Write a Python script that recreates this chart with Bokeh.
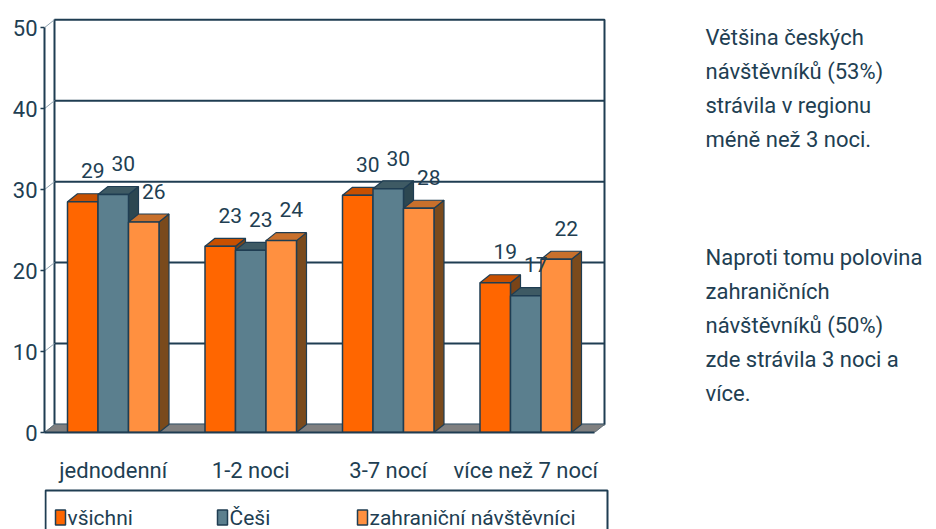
from bokeh.plotting import figure
from bokeh.models import Range1d, FixedTicker
from bokeh.layouts import column
from bokeh.core.properties import value
from bokeh.embed import file_html
from bokeh.resources import INLINE

# ---------------- data ----------------
categories = ["jednodenní", "1-2 noci", "3-7 nocí", "více než 7 nocí"]
series_names = ["všichni", "Češi", "zahraniční návštěvníci"]
vsichni = [28.5, 23.0, 29.3, 18.5]
cesi = [29.4, 22.5, 30.1, 16.9]
zahranicni = [26.0, 23.7, 27.7, 21.4]
vsichni_labels = ["29", "23", "30", "19"]
cesi_labels = ["30", "23", "30", "17"]
zahranicni_labels = ["26", "24", "28", "22"]
y_ticks = [0, 10, 20, 30, 40, 50]
note_1 = ["Většina českých", "návštěvníků (53%)", "strávila v regionu", "méně než 3 noci."]
note_2 = ["Naproti tomu polovina", "zahraničních", "návštěvníků (50%)",
          "zde strávila 3 noci a", "více."]

# ---------------- layout / style ----------------
W, H = 936, 485
LEG_H = 44
LEFT, TOP, BOTTOM = 44, 15, 51
FRAME_W = W - LEFT
FRAME_H = H - TOP - BOTTOM
PX_PER_X = 137.5
XMAX = FRAME_W / PX_PER_X
YMAX = 51.5
PX_PER_Y = FRAME_H / YMAX
DX = 10 / PX_PER_X          # 3D depth offset (x)
DY = 8 / PX_PER_Y           # 3D depth offset (y)
BAR_W = 30.5 / PX_PER_X
YTOP = y_ticks[-1]

FONT = "Roboto"
DARK = "#1f3d52"
TXT = "#213e52"
FRONT = ["#ff6600", "#5b7f8e", "#ff9040"]
TOPC = ["#c85000", "#3e5a64", "#c8702c"]
SIDE = ["#7a4418", "#2c4751", "#7a4a1c"]


def sx(px):
    return (px - LEFT) / PX_PER_X


def sy(py):
    return (TOP + FRAME_H - py) / PX_PER_Y


p = figure(width=W, height=H, output_backend="svg", toolbar_location=None,
           x_range=Range1d(0, XMAX), y_range=Range1d(0, YMAX),
           min_border_left=LEFT, min_border_right=0, min_border_top=TOP,
           min_border_bottom=BOTTOM, outline_line_color=None,
           background_fill_color="white", border_fill_color="white")
p.grid.visible = False

n = len(categories)

# back wall
p.quad(left=[DX], right=[n + DX], bottom=[DY], top=[YTOP + DY],
       fill_color="white", line_color=DARK, line_width=2)
# gridlines on back wall
gx = [[DX, n + DX] for t in y_ticks[1:-1]]
gy = [[t + DY, t + DY] for t in y_ticks[1:-1]]
p.multi_line(gx, gy, line_color=DARK, line_width=2)
# side-wall diagonals
p.multi_line([[0, DX] for t in y_ticks], [[t, t + DY] for t in y_ticks],
             line_color="#8fa3b0", line_width=1)
# floor
p.patch([0, DX, n + DX, n], [0, DY, DY, 0], fill_color="#808080",
        line_color="#5a6a75", line_width=1)

series = [vsichni, cesi, zahranicni]
labels = [vsichni_labels, cesi_labels, zahranicni_labels]

# side & top faces, painter's order left to right
px_list, py_list, fills = [], [], []
centers = [[i + 0.5 + (j - 1) * BAR_W for i in range(n)] for j in range(3)]
for i in range(n):
    for j in range(3):
        v = series[j][i]
        x0 = centers[j][i] - BAR_W / 2
        x1 = centers[j][i] + BAR_W / 2
        px_list.append([x1, x1, x1 + DX, x1 + DX])
        py_list.append([0, v, v + DY, DY])
        fills.append(SIDE[j])
        px_list.append([x0, x1, x1 + DX, x0 + DX])
        py_list.append([v, v, v + DY, v + DY])
        fills.append(TOPC[j])
p.patches(px_list, py_list, fill_color=fills, line_color=DARK, line_width=1.2)

for j in range(3):
    p.vbar(x=centers[j], top=series[j], bottom=0, width=BAR_W,
           fill_color=FRONT[j], line_color=DARK, line_width=1.5)
for j in range(3):
    p.text(x=[c + DX for c in centers[j]], y=[v + 3.8 for v in series[j]],
           text=labels[j], text_align="center", text_baseline="middle",
           text_font=value(FONT), text_font_size="21px", text_color=TXT)

# notes on the right
for lines, top_px in ((note_1, 37), (note_2, 258)):
    p.text(x=[sx(705)] * len(lines),
           y=[sy(top_px + k * 34.3) for k in range(len(lines))],
           text=lines, text_align="left", text_baseline="middle",
           text_font=value(FONT), text_font_size="22px", text_color=TXT)

# axes
p.yaxis.ticker = FixedTicker(ticks=y_ticks)
p.yaxis.bounds = (0, YTOP)
p.yaxis.major_tick_out = 4
p.yaxis.major_tick_in = 0
p.yaxis.minor_tick_line_color = None
p.yaxis.major_label_standoff = 3

p.xaxis.ticker = FixedTicker(ticks=[i + 0.5 for i in range(n)],
                             minor_ticks=list(range(n + 1)))
p.xaxis.major_label_overrides = {i + 0.5: c for i, c in enumerate(categories)}
p.xaxis.bounds = (0, n)
p.xaxis.major_tick_out = 0
p.xaxis.major_tick_in = 0
p.xaxis.minor_tick_out = 7
p.xaxis.minor_tick_in = 0
p.xaxis.major_label_standoff = 18

for ax in (p.xaxis, p.yaxis):
    ax.axis_line_color = DARK
    ax.axis_line_width = 2
    ax.major_tick_line_color = DARK
    ax.major_tick_line_width = 1.5
    ax.minor_tick_line_color = DARK if ax is p.xaxis else None
    ax.minor_tick_line_width = 1.5
    ax.major_label_text_font = FONT
    ax.major_label_text_font_size = "22px"
    ax.major_label_text_color = TXT

# ---------------- legend strip ----------------
leg = figure(width=W, height=LEG_H, output_backend="svg", toolbar_location=None,
             x_range=Range1d(LEFT, W), y_range=Range1d(0, LEG_H),
             min_border_left=LEFT, min_border_right=0, min_border_top=0,
             min_border_bottom=0, outline_line_color=None,
             background_fill_color="white", border_fill_color="white")
leg.axis.visible = False
leg.grid.visible = False
leg.quad(left=[LEFT + 1], right=[607], bottom=[-3], top=[LEG_H - 5],
         fill_color="white", line_color=DARK, line_width=2)
sq_x = [60, 222, 362]
leg.rect(x=sq_x, y=[12] * 3, width=10, height=15, fill_color=FRONT,
         line_color=DARK, line_width=1.5)
leg.text(x=[s + 7 for s in sq_x], y=[12] * 3, text=series_names,
         text_align="left", text_baseline="middle", text_font=value(FONT),
         text_font_size="21px", text_color=TXT)

open("out.html", "w").write(file_html(column(p, leg, spacing=0), INLINE))
